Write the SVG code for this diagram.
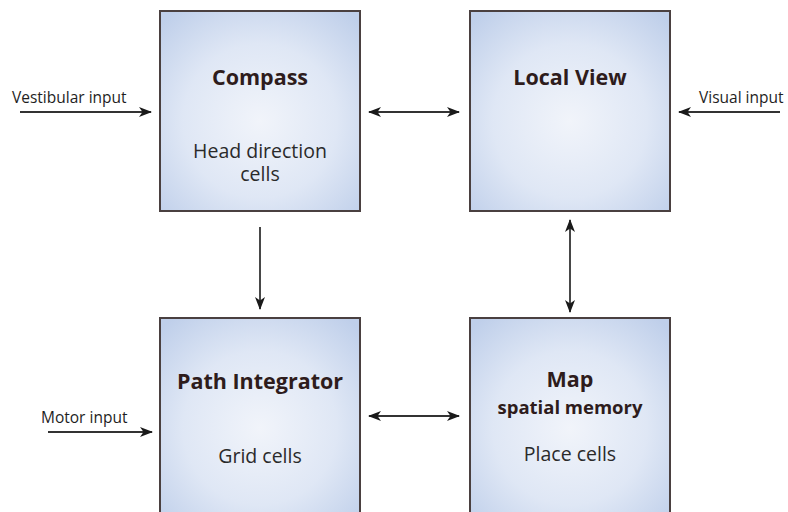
<svg xmlns="http://www.w3.org/2000/svg" width="788" height="512" viewBox="0 0 788 512">
  <defs>
    <radialGradient id="boxFill" cx="50%" cy="55%" r="70%">
      <stop offset="0" stop-color="#f1f4fa"/>
      <stop offset="0.55" stop-color="#dfe7f5"/>
      <stop offset="1" stop-color="#bfcfea"/>
    </radialGradient>
    <marker id="head" viewBox="0 0 13 10" refX="12" refY="5" markerWidth="13" markerHeight="10" markerUnits="userSpaceOnUse" orient="auto-start-reverse">
      <path d="M0,0 L13,5 L0,10 L3.5,5 Z" fill="#1a1a1a"/>
    </marker>
  </defs>
  <style>
    .box { fill: url(#boxFill); stroke: #4a4040; stroke-width: 2; }
    .title { font-family: "Open Sans", "Liberation Sans", sans-serif; font-weight: bold; font-size: 21.5px; fill: #2e1c1c; text-anchor: middle; }
    .sub { font-family: "Open Sans", "Liberation Sans", sans-serif; font-weight: bold; font-size: 18.5px; fill: #2e1c1c; text-anchor: middle; }
    .body { font-family: "Open Sans", "Liberation Sans", sans-serif; font-size: 19.5px; fill: #2a2a2a; text-anchor: middle; }
    .input { font-family: "Open Sans", "Liberation Sans", sans-serif; font-size: 15.5px; fill: #1e1e1e; }
    .link { stroke: #333; stroke-width: 1.8; fill: none; }
  </style>
  <rect width="788" height="512" fill="#ffffff"/>

  <g id="compass">
    <rect class="box" x="160" y="11" width="200" height="200"/>
    <text class="title" x="260" y="85">Compass</text>
    <text class="body" x="260" y="158">Head direction</text>
    <text class="body" x="260" y="181">cells</text>
  </g>

  <g id="local-view">
    <rect class="box" x="470" y="11" width="200" height="200"/>
    <text class="title" x="570" y="85">Local View</text>
  </g>

  <g id="path-integrator">
    <rect class="box" x="160" y="318" width="200" height="200"/>
    <text class="title" x="260" y="389">Path Integrator</text>
    <text class="body" x="260" y="463">Grid cells</text>
  </g>

  <g id="map">
    <rect class="box" x="470" y="318" width="200" height="200"/>
    <text class="title" x="570" y="387">Map</text>
    <text class="sub" x="570" y="414">spatial memory</text>
    <text class="body" x="570" y="461">Place cells</text>
  </g>

  <g id="inputs">
    <text class="input" x="12" y="103">Vestibular input</text>
    <text class="input" x="699" y="103">Visual input</text>
    <text class="input" x="41" y="423">Motor input</text>
  </g>

  <g id="connectors">
    <line class="link" x1="20" y1="112" x2="151" y2="112" marker-end="url(#head)"/>
    <line class="link" x1="780" y1="112" x2="679" y2="112" marker-end="url(#head)"/>
    <line class="link" x1="48" y1="432" x2="152" y2="432" marker-end="url(#head)"/>
    <line class="link" x1="369" y1="112" x2="459" y2="112" marker-start="url(#head)" marker-end="url(#head)"/>
    <line class="link" x1="369" y1="416" x2="459" y2="416" marker-start="url(#head)" marker-end="url(#head)"/>
    <line class="link" x1="260" y1="227" x2="260" y2="309" marker-end="url(#head)"/>
    <line class="link" x1="570" y1="220" x2="570" y2="312" marker-start="url(#head)" marker-end="url(#head)"/>
  </g>
</svg>
